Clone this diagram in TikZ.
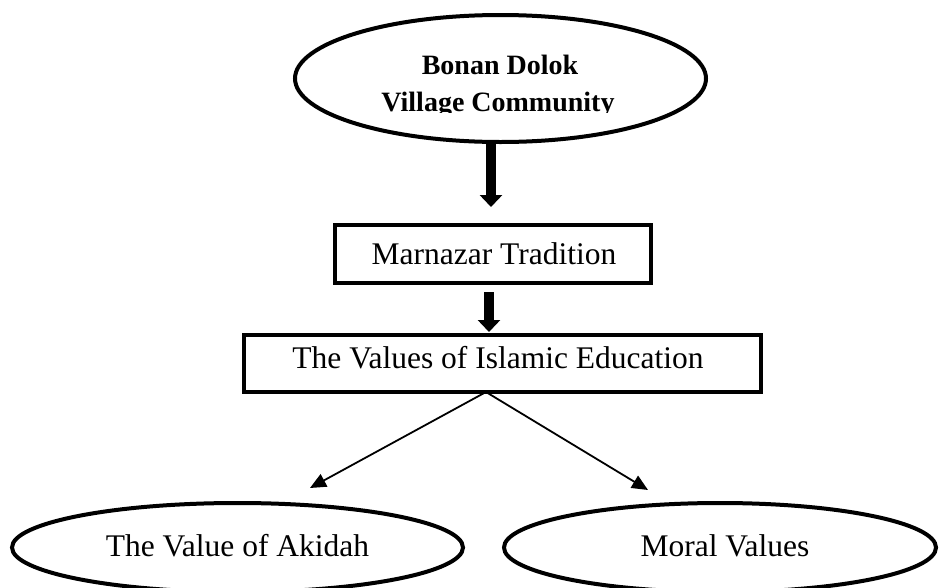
\documentclass[tikz,border=0pt]{standalone}
\usepackage{fontspec}
\setmainfont{Liberation Serif}
\usetikzlibrary{arrows.meta,shapes.geometric}
\tikzset{
  shapeline/.style={draw=black, line width=4pt, inner sep=0pt, outer sep=0pt},
  oval/.style={shapeline, ellipse},
  stepbox/.style={shapeline, rectangle},
  plain/.style={font=\fontsize{31.5}{36}\selectfont, inner sep=0pt, anchor=base},
  heading/.style={font=\fontsize{28}{33}\selectfont\bfseries, inner sep=0pt, anchor=base},
  blockarrow/.style={line width=10pt, -{Triangle[length=12pt,width=22pt]}},
  thinarrow/.style={line width=1.8pt, -{Triangle[length=16pt,width=14pt]}},
}
\begin{document}
\begin{tikzpicture}[x=1pt,y=-1pt]
  \clip (0,0) rectangle (940,587);

  % community
  \node[oval, minimum width=411pt, minimum height=127pt] (comm) at (500.5,78.5) {};
  \begin{scope}
    \clip (280,30) rectangle (720,112);
    \node[heading] (comm-a) at (500,74) {Bonan Dolok};
    \node[heading] (comm-b) at (498,111) {Village Community};
  \end{scope}

  % tradition
  \node[stepbox, minimum width=316pt, minimum height=58pt] (trad) at (493,254) {};
  \node[plain] (trad-t) at (494,264) {Marnazar Tradition};

  % education values
  \node[stepbox, minimum width=517pt, minimum height=57pt] (vals) at (502.5,363.5) {};
  \node[plain] (vals-t) at (498,368) {The Values of Islamic Education};

  % the two kinds of values
  \node[oval, minimum width=451pt, minimum height=89pt] (akidah) at (237.5,547.5) {};
  \node[plain] (akidah-t) at (237.5,556) {The Value of Akidah};
  \node[oval, minimum width=432pt, minimum height=89pt] (moral) at (720,547.5) {};
  \node[plain] (moral-t) at (725,556) {Moral Values};

  % connectors
  \draw[blockarrow, shorten >=18pt] ([xshift=-9.5pt]comm.south) -- ([xshift=-2pt]trad.north);
  \draw[blockarrow, shorten <=9pt, shorten >=3pt] ([xshift=-4pt]trad.south) -- ([xshift=-13.5pt]vals.north);

  \coordinate (fork) at ([xshift=-16.5pt]vals.south);
  \coordinate (akidah-in) at ([xshift=72.5pt,yshift=15pt]akidah.north);
  \coordinate (moral-in) at ([xshift=-72pt,yshift=13pt]moral.north);
  \draw[thinarrow] (fork) -- (akidah-in);
  \draw[thinarrow] (fork) -- (moral-in);
\end{tikzpicture}
\end{document}
